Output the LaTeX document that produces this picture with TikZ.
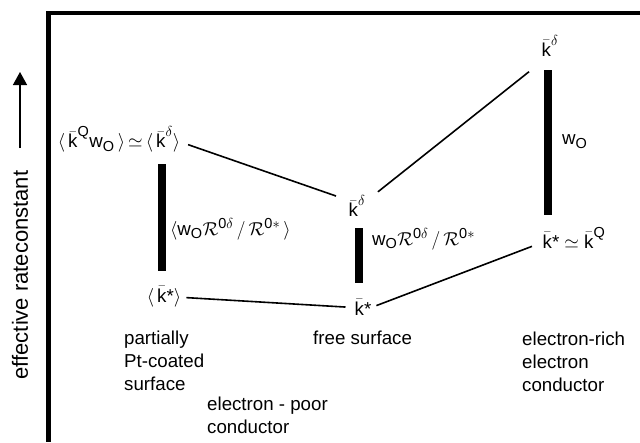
\documentclass[tikz,border=0pt]{standalone}
\usepackage{amsmath}
\usepackage{fix-cm}
\usepackage{fontspec}
\setmainfont{Liberation Sans}
\usetikzlibrary{arrows.meta}

\newcommand{\scr}[1]{\text{\fontsize{14.5}{15}\selectfont #1}}
\newcommand{\kbar}{\bar{\text{k}}}
\newcommand{\wO}{\text{w}_{\scr{O}}}

\begin{document}
\begin{tikzpicture}[x=1pt, y=-1pt,
  lbl/.style={font=\fontsize{18.7}{23}\selectfont, anchor=base, inner sep=3pt, text height=14pt, text depth=5pt},
  note/.style={font=\fontsize{18.7}{23}\selectfont, anchor=north west, inner sep=0pt, align=left},
  link/.style={line width=1.6pt},
  bar/.style={line width=8pt}]
\useasboundingbox (0,0) rectangle (640,442);
 % frame and axis
 \draw[line width=4.5pt] (640,13) -| (48.5,442);
 \coordinate (ax0) at (20,148);
 \coordinate (ax1) at (20,72);
 \draw[line width=1.4pt, -{Triangle[length=13pt,width=14pt]}] (ax0) -- (ax1);
 \node[rotate=90, font=\fontsize{22}{26}\selectfont] (ylab) at (20,275) {effective rateconstant};
 % levels
 \node[lbl] (ltop) at (119,147.5) {$\langle\,\kbar^{\scr{Q}}\wO\,\rangle\,{\simeq}\,\langle\,\kbar^{\scr{$\delta$}}\rangle$};
 \node[lbl] (kdmid) at (357,216.5) {$\kbar^{\scr{$\delta$}}$};
 \node[lbl] (kdtop) at (550,56) {$\kbar^{\scr{$\delta$}}$};
 \node[lbl] (ksleft) at (164,302) {$\langle\,\kbar\text{*}\rangle$};
 \node[lbl] (ksmid) at (363,315) {$\kbar\text{*}$};
 \node[lbl] (ksright) at (574,248) {$\kbar\text{*}\simeq\kbar^{\scr{Q}}$};
 % bars
 \coordinate (lbt) at (162,164);
 \coordinate (lbb) at (162,271);
 \coordinate (mbt) at (359,228);
 \coordinate (mbb) at (359,283);
 \coordinate (rbt) at (548,70);
 \coordinate (rbb) at (548,215);
 \draw[bar] (lbt) -- (lbb) node[pos=0.664, anchor=base west, xshift=4pt, font=\fontsize{18.7}{23}\selectfont, inner sep=0pt] {$\langle\wO\mathcal{R}^{\scr{0$\delta$}}\,/\,\mathcal{R}^{\scr{0$\ast$}}\,\rangle$};
 \draw[bar] (mbt) -- (mbb) node[pos=0.31, anchor=base west, xshift=9pt, font=\fontsize{18.7}{23}\selectfont, inner sep=0pt] {$\wO\mathcal{R}^{\scr{0$\delta$}}\,/\,\mathcal{R}^{\scr{0$\ast$}}$};
 \draw[bar] (rbt) -- (rbb) node[pos=0.517, anchor=base west, xshift=10pt, font=\fontsize{18.7}{23}\selectfont, inner sep=0pt] {$\wO$};
 % links
 \draw[link, shorten <=5pt, shorten >=10pt] (ltop.east) -- (kdmid.north west);
 \draw[link, shorten <=12pt, shorten >=12pt] (kdmid.north east) -- (kdtop.south west);
 \draw[link, shorten <=2pt, shorten >=6pt] (ksleft.east) -- (ksmid.165);
 \draw[link, shorten <=2pt, shorten >=8pt] (ksmid.20) -- (ksright.west);
 % captions
 \node[note] (partial) at (124,330.5) {partially\\Pt-coated\\surface};
 \node[note] (poor) at (207,396.5) {electron - poor\\conductor};
 \node[note] (free) at (313,330.5) {free surface};
 \node[note] (rich) at (522,331.5) {electron-rich\\electron\\conductor};
\end{tikzpicture}
\end{document}
